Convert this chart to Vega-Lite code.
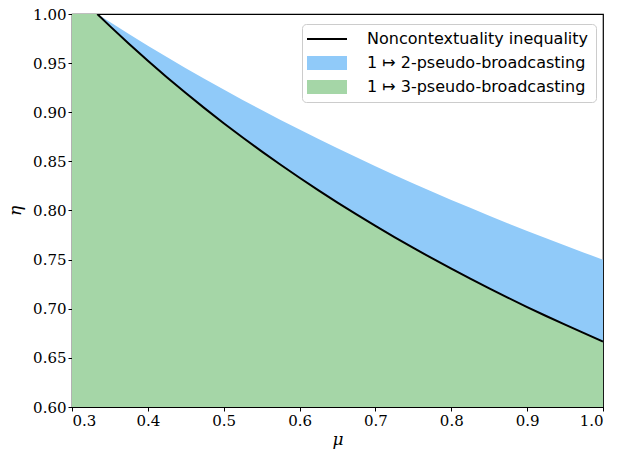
{
  "$schema": "https://vega.github.io/schema/vega-lite/v6.json",
  "autosize": "none",
  "width": 531,
  "height": 393,
  "padding": {"left": 72, "top": 14, "right": 15, "bottom": 46},
  "background": "white",
  "config": {
    "view": {"stroke": "black", "strokeWidth": 1.2},
    "axis": {
      "labelFont": "DejaVu Serif",
      "labelFontSize": 15,
      "labelColor": "black",
      "titleFont": "DejaVu Serif",
      "titleFontSize": 17,
      "titleFontStyle": "italic",
      "titleFontWeight": "normal",
      "titleColor": "black",
      "domainColor": "black",
      "tickColor": "black",
      "tickSize": 4,
      "grid": false
    }
  },
  "data": {
    "values": [
      {"mu": 0.3, "nc": null, "b2": 1.0, "b3": 1.0},
      {"mu": 0.33333, "nc": 1.0, "b2": 1.0, "b3": 1.0},
      {"mu": 0.35, "nc": 0.98765, "b2": 0.99174, "b3": 0.98765},
      {"mu": 0.375, "nc": 0.9697, "b2": 0.97959, "b3": 0.9697},
      {"mu": 0.4, "nc": 0.95238, "b2": 0.96774, "b3": 0.95238},
      {"mu": 0.425, "nc": 0.93567, "b2": 0.95618, "b3": 0.93567},
      {"mu": 0.45, "nc": 0.91954, "b2": 0.94488, "b3": 0.91954},
      {"mu": 0.475, "nc": 0.90395, "b2": 0.93385, "b3": 0.90395},
      {"mu": 0.5, "nc": 0.88889, "b2": 0.92308, "b3": 0.88889},
      {"mu": 0.525, "nc": 0.87432, "b2": 0.91255, "b3": 0.87432},
      {"mu": 0.55, "nc": 0.86022, "b2": 0.90226, "b3": 0.86022},
      {"mu": 0.575, "nc": 0.84656, "b2": 0.89219, "b3": 0.84656},
      {"mu": 0.6, "nc": 0.83333, "b2": 0.88235, "b3": 0.83333},
      {"mu": 0.625, "nc": 0.82051, "b2": 0.87273, "b3": 0.82051},
      {"mu": 0.65, "nc": 0.80808, "b2": 0.86331, "b3": 0.80808},
      {"mu": 0.675, "nc": 0.79602, "b2": 0.85409, "b3": 0.79602},
      {"mu": 0.7, "nc": 0.78431, "b2": 0.84507, "b3": 0.78431},
      {"mu": 0.725, "nc": 0.77295, "b2": 0.83624, "b3": 0.77295},
      {"mu": 0.75, "nc": 0.7619, "b2": 0.82759, "b3": 0.7619},
      {"mu": 0.775, "nc": 0.75117, "b2": 0.81911, "b3": 0.75117},
      {"mu": 0.8, "nc": 0.74074, "b2": 0.81081, "b3": 0.74074},
      {"mu": 0.825, "nc": 0.73059, "b2": 0.80268, "b3": 0.73059},
      {"mu": 0.85, "nc": 0.72072, "b2": 0.7947, "b3": 0.72072},
      {"mu": 0.875, "nc": 0.71111, "b2": 0.78689, "b3": 0.71111},
      {"mu": 0.9, "nc": 0.70175, "b2": 0.77922, "b3": 0.70175},
      {"mu": 0.925, "nc": 0.69264, "b2": 0.7717, "b3": 0.69264},
      {"mu": 0.95, "nc": 0.68376, "b2": 0.76433, "b3": 0.68376},
      {"mu": 0.975, "nc": 0.67511, "b2": 0.7571, "b3": 0.67511},
      {"mu": 1.0, "nc": 0.66667, "b2": 0.75, "b3": 0.66667}
    ]
  },
  "encoding": {
    "x": {
      "field": "mu", "type": "quantitative", "title": "μ",
      "scale": {"domain": [0.3, 1.0], "nice": false, "zero": false},
      "axis": {"values": [0.3, 0.4, 0.5, 0.6, 0.7, 0.8, 0.9, 1.0], "format": ".1f", "titlePadding": 3}
    }
  },
  "layer": [
    {
      "mark": {"type": "area", "clip": true},
      "encoding": {
        "y": {
          "field": "b2", "type": "quantitative", "title": "η",
          "scale": {"domain": [0.6, 1.0], "nice": false, "zero": false},
          "axis": {"values": [0.6, 0.65, 0.7, 0.75, 0.8, 0.85, 0.9, 0.95, 1.0], "format": ".2f", "titlePadding": 8}
        },
        "y2": {"datum": 0.6},
        "color": {"datum": "1 ↦ 2-pseudo-broadcasting"}
      }
    },
    {
      "mark": {"type": "area", "clip": true},
      "encoding": {
        "y": {"field": "b3", "type": "quantitative"},
        "y2": {"datum": 0.6},
        "color": {"datum": "1 ↦ 3-pseudo-broadcasting"}
      }
    },
    {
      "mark": {"type": "line", "clip": true, "strokeWidth": 2},
      "encoding": {
        "y": {"field": "nc", "type": "quantitative"},
        "color": {
          "datum": "Noncontextuality inequality",
          "scale": {
            "domain": ["Noncontextuality inequality", "1 ↦ 2-pseudo-broadcasting", "1 ↦ 3-pseudo-broadcasting"],
            "range": ["#000000", "#90CAF9", "#A5D6A7"]
          },
          "legend": {
            "title": null,
            "orient": "none",
            "legendX": 230,
            "legendY": 10,
            "padding": 7,
            "fillColor": "white",
            "strokeColor": "#cccccc",
            "cornerRadius": 4,
            "symbolSize": 400,
            "rowPadding": 8,
            "labelOffset": 42,
            "labelFont": "DejaVu Sans",
            "labelFontSize": 16,
            "labelColor": "black",
            "labelLimit": 400,
            "encode": {
              "symbols": {
                "update": {
                  "shape": {"signal": "datum.label == 'Noncontextuality inequality' ? 'M-1,0H3' : 'M-1,-0.7H3V0.7H-1Z'"},
                  "fill": {"signal": "datum.label == 'Noncontextuality inequality' ? 'transparent' : (datum.label == '1 ↦ 2-pseudo-broadcasting' ? '#90CAF9' : '#A5D6A7')"},
                  "stroke": {"signal": "datum.label == 'Noncontextuality inequality' ? '#000000' : 'transparent'"},
                  "strokeWidth": {"signal": "datum.label == 'Noncontextuality inequality' ? 2 : 0"},
                  "opacity": {"value": 1},
                  "fillOpacity": {"value": 1}
                }
              }
            }
          }
        }
      }
    }
  ]
}
